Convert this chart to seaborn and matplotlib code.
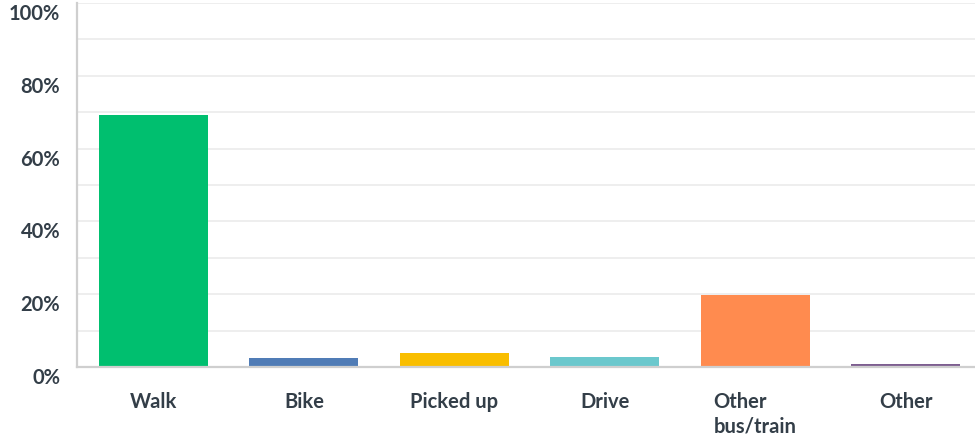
import matplotlib
matplotlib.use("Agg")
import matplotlib.pyplot as plt
import matplotlib.transforms as mtransforms
import seaborn as sns
import pandas as pd

categories = ["Walk", "Bike", "Picked up", "Drive", "Other\nbus/train", "Other"]
values = [69.3, 2.5, 3.85, 2.75, 19.8, 0.85]
colors = ["#00BF6F", "#507CB6", "#F9BE00", "#6BC8CD", "#FF8B4F", "#7D5E90"]
ytick_vals = [0, 20, 40, 60, 80, 100]
ytick_labels = ["0%", "20%", "40%", "60%", "80%", "100%"]

df = pd.DataFrame({"mode": categories, "pct": values})

sns.set_style("white")
plt.rcParams["font.family"] = ["Lato", "DejaVu Sans"]

fig = plt.figure(figsize=(9.75, 4.38), dpi=100)
ax = fig.add_axes([0.079, 0.162, 0.921, 0.831])

sns.barplot(data=df, x="mode", y="pct", hue="mode", palette=colors,
            width=0.725, legend=False, saturation=1, linewidth=0,
            ax=ax, zorder=3)

ax.set_xlim(-0.509, 5.462)
ax.set_ylim(0, 100)
ax.set_yticks(ytick_vals)
ax.set_yticklabels(ytick_labels)
ax.set_yticks([10, 30, 50, 70, 90], minor=True)
ax.grid(axis="y", which="both", color="#ebebeb", linewidth=1.2, zorder=0)
ax.set_axisbelow(True)

ax.set_xlabel("")
ax.set_ylabel("")
ax.tick_params(axis="both", which="both", length=0)
ax.tick_params(axis="y", pad=12, labelsize=14.5, labelcolor="#333e48")
ax.tick_params(axis="x", pad=18, labelsize=14.5, labelcolor="#333e48")
for lab in ax.get_yticklabels():
    lab.set_fontweight("bold")
    lab.set_transform(lab.get_transform() +
                      mtransforms.ScaledTranslation(0, -6.5 / 72, fig.dpi_scale_trans))
for lab in ax.get_xticklabels():
    lab.set_fontweight("bold")
    lab.set_multialignment("left")
    lab.set_linespacing(1.3)

for side in ["top", "right"]:
    ax.spines[side].set_visible(False)
for side in ["left", "bottom"]:
    ax.spines[side].set_color("#cfcfcf")
    ax.spines[side].set_linewidth(1.6)
    ax.spines[side].set_zorder(4)

fig.savefig("out.png", dpi=100)
